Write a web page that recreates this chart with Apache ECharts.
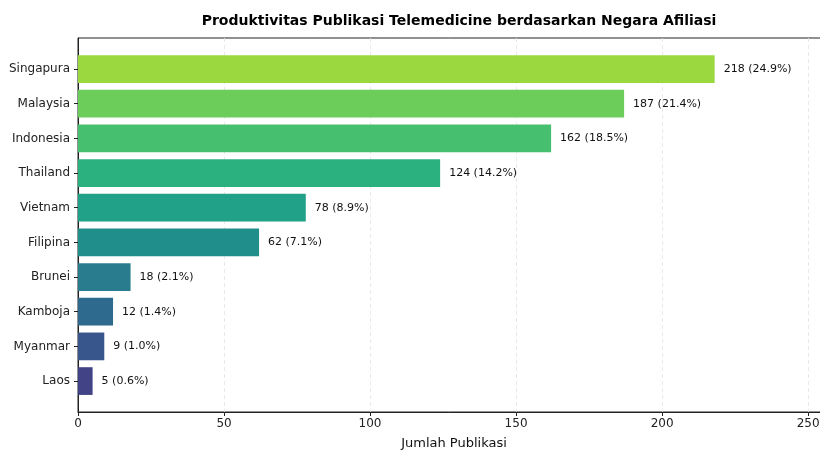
<!DOCTYPE html>
<html>
<head>
<meta charset="utf-8">
<script src="https://cdn.jsdelivr.net/npm/echarts@6/dist/echarts.min.js"></script>
<style>
  html, body { margin: 0; padding: 0; background: #fff; }
  #chart { width: 820px; height: 450px; }
</style>
</head>
<body>
<div id="chart"></div>
<script>
// data negara afiliasi (urut dari terbesar)
const negara = ['Singapura', 'Malaysia', 'Indonesia', 'Thailand', 'Vietnam',
                'Filipina', 'Brunei', 'Kamboja', 'Myanmar', 'Laos'];
const jumlah = [218, 187, 162, 124, 78, 62, 18, 12, 9, 5];
const warna = ['#9bd83f', '#6ccd5a', '#46c06f', '#2bb07f', '#21a187',
               '#208f8b', '#287c8e', '#2e6a8e', '#38568c', '#424387'];
const xTicks = [0, 50, 100, 150, 200, 250];

const total = jumlah.reduce((a, b) => a + b, 0);
const font = 'DejaVu Sans';
const xMax = 257.5;

let myChart = echarts.init(document.getElementById('chart'));

let option = {
  backgroundColor: '#fff',
  animation: false,
  title: {
    text: 'Produktivitas Publikasi Telemedicine berdasarkan Negara Afiliasi',
    left: 454,
    top: 9,
    textAlign: 'center',
    textStyle: { fontFamily: font, fontSize: 14, fontWeight: 'bold', color: '#000' }
  },
  grid: [
    // bingkai (spines)
    { left: 78, top: 38, width: 752, height: 374, outerBoundsMode: 'none', containLabel: false,
      show: true, borderColor: '#222', borderWidth: 1, backgroundColor: 'transparent' },
    // area batang
    { left: 78, top: 51.7, width: 752, height: 346.7, outerBoundsMode: 'none', containLabel: false }
  ],
  xAxis: [
    {
      gridIndex: 0,
      type: 'value',
      min: 0,
      max: xMax,
      interval: 50,
      axisLine: { show: true, lineStyle: { color: '#222', width: 1 } },
      axisTick: { show: true, length: 4, lineStyle: { color: '#222' } },
      axisLabel: {
        fontFamily: font, fontSize: 12, color: '#222', margin: 6,
        showMaxLabel: false,
        formatter: v => (xTicks.indexOf(v) >= 0 ? String(v) : '')
      },
      splitLine: { show: true, showMinLine: false, lineStyle: { color: '#e3e3e3', type: [4, 3], width: 0.8 } },
      name: 'Jumlah Publikasi',
      nameLocation: 'middle',
      nameGap: 25,
      nameTextStyle: { fontFamily: font, fontSize: 13, color: '#111' }
    },
    {
      gridIndex: 1,
      type: 'value',
      min: 0,
      max: xMax,
      show: false
    }
  ],
  yAxis: [
    {
      gridIndex: 0,
      type: 'value',
      axisLine: { show: true, lineStyle: { color: '#222', width: 1 } },
      axisTick: { show: false },
      axisLabel: { show: false },
      splitLine: { show: false }
    },
    {
      gridIndex: 1,
      type: 'category',
      inverse: true,
      data: negara,
      axisLine: { show: false },
      axisTick: { show: true, alignWithLabel: true, length: 4, lineStyle: { color: '#222' } },
      axisLabel: { fontFamily: font, fontSize: 12, color: '#222', margin: 8 },
      splitLine: { show: false }
    }
  ],
  series: [
    {
      type: 'bar',
      xAxisIndex: 1,
      yAxisIndex: 1,
      barWidth: '80%',
      data: jumlah.map((v, i) => ({ value: v, itemStyle: { color: warna[i] } })),
      label: {
        show: true,
        position: 'right',
        distance: 9,
        fontFamily: font,
        fontSize: 11,
        color: '#111',
        formatter: p => p.value + ' (' + (p.value / total * 100).toFixed(1) + '%)'
      }
    }
  ]
};

myChart.setOption(option);
</script>
</body>
</html>
